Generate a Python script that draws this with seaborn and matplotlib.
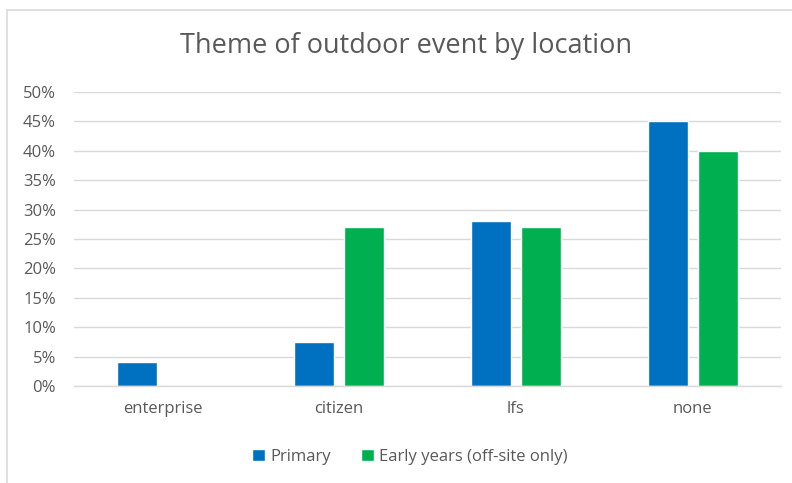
import pandas as pd
import seaborn as sns
import matplotlib.pyplot as plt
import matplotlib.ticker as ticker
from matplotlib.patches import Rectangle

locations = ["enterprise", "citizen", "lfs", "none"]
primary = [0.041, 0.075, 0.28, 0.45]
early_years = [0.0, 0.27, 0.27, 0.40]
series_names = ["Primary", "Early years (off-site only)"]
y_ticks = [0, 0.05, 0.10, 0.15, 0.20, 0.25, 0.30, 0.35, 0.40, 0.45, 0.50]

df = pd.DataFrame({
    "Location": locations * 2,
    "Series": [series_names[0]] * 4 + [series_names[1]] * 4,
    "Share": primary + early_years,
})

sns.set_style("white")
plt.rcParams["font.family"] = ["Open Sans", "DejaVu Sans"]

fig = plt.figure(figsize=(7.92, 4.83), dpi=100)
ax = fig.add_axes([74 / 792, 1 - 386 / 483, (781 - 74) / 792, (386 - 92) / 483])

sns.barplot(
    data=df, x="Location", y="Share", hue="Series",
    palette=["#0070c0", "#00b050"], width=0.565, gap=0.2,
    ax=ax, legend=True, saturation=1,
)

ax.set_ylim(0, 0.5)
ax.set_yticks(y_ticks)
ax.yaxis.set_major_formatter(ticker.FuncFormatter(lambda v, pos: f"{v * 100:.0f}%"))
ax.grid(axis="y", color="#d9d9d9", linewidth=1)
ax.set_axisbelow(True)
for s in ["top", "right", "left"]:
    ax.spines[s].set_visible(False)
ax.spines["bottom"].set_color("#d9d9d9")
ax.spines["bottom"].set_linewidth(1)
ax.tick_params(axis="both", length=0, colors="#595959", labelsize=12)
ax.tick_params(axis="x", pad=11)
ax.tick_params(axis="y", pad=13)
ax.set_xlabel("")
ax.set_ylabel("")

# legend squares a bit bigger, like the Excel ones
leg = ax.legend(
    loc="center", bbox_to_anchor=(410 / 792, 1 - 457 / 483),
    bbox_transform=fig.transFigure, ncol=2, frameon=False,
    fontsize=12, handlelength=0.75, handleheight=0.75, columnspacing=1.8,
    handletextpad=0.35,
)
for t in leg.get_texts():
    t.set_color("#595959")

fig.text(406 / 792, 1 - 46 / 483, "Theme of outdoor event by location",
         ha="center", va="center", fontsize=19.5, color="#595959")

# chart area border
fig.patches.append(Rectangle((6.5 / 792, -0.01), 1.0, 1 - 10 / 483 + 0.01,
                             transform=fig.transFigure, fill=False,
                             edgecolor="#d9d9d9", linewidth=1.2))

fig.savefig("out.png", dpi=100)
